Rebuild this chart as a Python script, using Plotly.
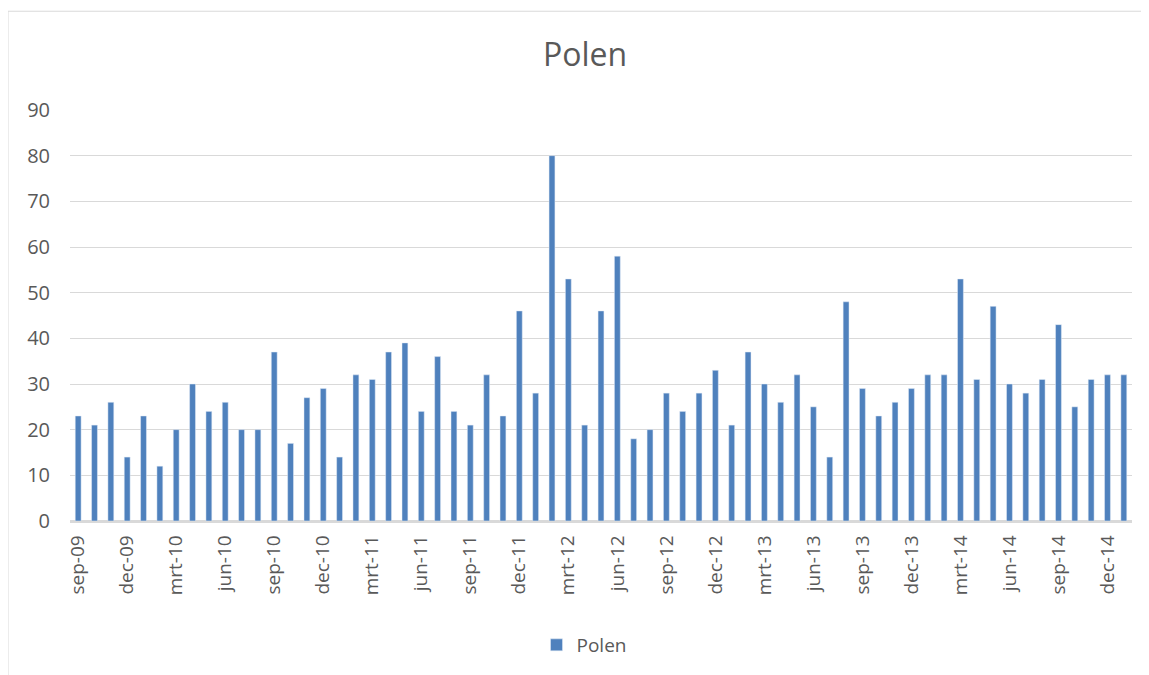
import plotly.graph_objects as go

months = ["jan", "feb", "mrt", "apr", "mei", "jun", "jul", "aug", "sep", "okt", "nov", "dec"]
categories = []
y, m = 2009, 8
for _ in range(65):
    categories.append(f"{months[m]}-{str(y)[2:]}")
    m += 1
    if m == 12:
        m = 0
        y += 1

values = [23, 21, 26, 14, 23, 12, 20, 30, 24, 26, 20, 20, 37, 17, 27, 29, 14, 32, 31, 37,
          39, 24, 36, 24, 21, 32, 23, 46, 28, 80, 53, 21, 46, 58, 18, 20, 28, 24, 28, 33,
          21, 37, 30, 26, 32, 25, 14, 48, 29, 23, 26, 29, 32, 32, 53, 31, 47, 30, 28, 31,
          43, 25, 31, 32, 32]

tick_labels = categories[::3]

FONT = "Open Sans"
fig = go.Figure()
fig.add_trace(go.Bar(
    x=categories, y=values, name="Polen",
    marker=dict(color="#4F81BD"),
))

OFF = 8  # page body margin
W, H = 1149 - OFF, 675 - OFF
L, R, T, B = 70 - OFF, 17, 110 - OFF, 153
pw, ph = W - L - R, H - T - B

def px(x):
    return (x - OFF - L) / pw

def py(yv):
    return (H - B - (yv - OFF)) / ph

fig.update_layout(
    width=W, height=H,
    margin=dict(l=L, r=R, t=T, b=B),
    paper_bgcolor="white", plot_bgcolor="white",
    bargap=0.64,
    showlegend=True,
    title=dict(text="Polen", x=px(585), xanchor="center", y=1 - (55 - OFF) / H, yanchor="middle",
               xref="paper",
               font=dict(size=32, color="#595959", family=FONT)),
    legend=dict(orientation="h", x=0.484, xanchor="center", y=py(645), yanchor="middle",
                font=dict(size=19, color="#595959", family=FONT), itemwidth=30),
    font=dict(family=FONT, color="#595959"),
    xaxis=dict(
        type="category", tickmode="array", tickvals=tick_labels, ticktext=tick_labels,
        tickangle=-90, showgrid=False, showline=True, linecolor="#D9D9D9", linewidth=1.5,
        ticks="", tickfont=dict(size=19, color="#595959", family=FONT),
        ticklabelstandoff=5,
    ),
    yaxis=dict(
        range=[0, 90], dtick=10, showgrid=True, gridcolor="#D9D9D9", gridwidth=1.3,
        zeroline=True, zerolinecolor="#D9D9D9", showline=False, ticks="",
        tickfont=dict(size=20, color="#595959", family=FONT), ticklabelstandoff=19,
    ),
    shapes=[dict(type="rect", xref="paper", yref="paper",
                 x0=px(8), x1=px(1170), y0=py(700), y1=py(11),
                 line=dict(color="#D9D9D9", width=1), fillcolor="rgba(0,0,0,0)", layer="below")],
)

fig.write_html("out.html")
